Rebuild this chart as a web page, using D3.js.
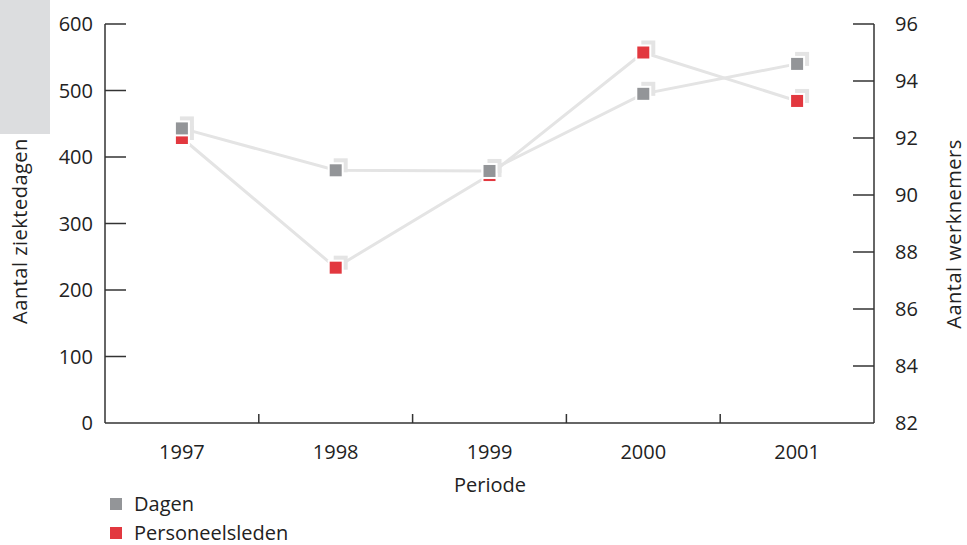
<!DOCTYPE html>
<html><head><meta charset="utf-8">
<script src="https://cdn.jsdelivr.net/npm/d3@7"></script>
<style>body{margin:0;background:#fff}svg{display:block}text{font-family:"Open Sans",sans-serif;fill:#222}</style>
</head><body><svg id="c" width="967" height="545"></svg>
<script>
const categories = ["1997","1998","1999","2000","2001"];
const dagen = [443, 380, 379, 495, 540];
const personeelsleden = [92.0, 87.45, 90.7, 95.0, 93.3];
const leftTicks = [0,100,200,300,400,500,600];
const rightTicks = [82,84,86,88,90,92,94,96];
const seriesNames = ["Dagen","Personeelsleden"];
const colors = ["#939598","#e2383f"];

const svg = d3.select("#c");
const L = 105, R = 874, T = 24, B = 423;
const fs = 20;

svg.append("rect").attr("x",0).attr("y",0).attr("width",50).attr("height",134).attr("fill","#dcdddf");

const x = d3.scaleBand().domain(categories).range([L,R]);
const yL = d3.scaleLinear().domain([0,600]).range([B,T]);
const yR = d3.scaleLinear().domain([82,96]).range([B,T]);

// axes
const ax = svg.append("g").attr("stroke","#333").attr("stroke-width",1.5);
ax.append("line").attr("x1",L).attr("x2",L).attr("y1",T).attr("y2",B);
ax.append("line").attr("x1",R).attr("x2",R).attr("y1",T).attr("y2",B);
ax.append("line").attr("x1",L).attr("x2",R).attr("y1",B).attr("y2",B);
leftTicks.forEach(v=>{ if(v>0) ax.append("line").attr("x1",L).attr("x2",L+21).attr("y1",yL(v)).attr("y2",yL(v)); });
rightTicks.forEach(v=>{ if(v>82) ax.append("line").attr("x1",R-21).attr("x2",R).attr("y1",yR(v)).attr("y2",yR(v)); });
categories.slice(1).forEach(c=>{ ax.append("line").attr("x1",x(c)).attr("x2",x(c)).attr("y1",B-9).attr("y2",B); });

leftTicks.forEach(v=>svg.append("text").attr("x",93).attr("y",yL(v)).attr("dy","0.35em").attr("text-anchor","end").attr("font-size",fs).text(v));
rightTicks.forEach(v=>svg.append("text").attr("x",895).attr("y",yR(v)).attr("dy","0.35em").attr("font-size",fs).text(v));
categories.forEach(c=>svg.append("text").attr("x",x(c)+x.bandwidth()/2).attr("y",459).attr("text-anchor","middle").attr("font-size",fs).text(c));
svg.append("text").attr("x",490).attr("y",492).attr("text-anchor","middle").attr("font-size",fs).text("Periode");
svg.append("text").attr("transform","translate(27,231) rotate(-90)").attr("text-anchor","middle").attr("font-size",fs).attr("letter-spacing",0.5).text("Aantal ziektedagen");
svg.append("text").attr("transform","translate(961,234) rotate(-90)").attr("text-anchor","middle").attr("font-size",fs).attr("letter-spacing",0.5).text("Aantal werknemers");

const cx = c => x(c)+x.bandwidth()/2;
const ptsD = categories.map((c,i)=>[cx(c), yL(dagen[i])]);
const ptsP = categories.map((c,i)=>[cx(c), yR(personeelsleden[i])]);
const line = d3.line();
[ptsP, ptsD].forEach(p=>svg.append("path").attr("d",line(p)).attr("fill","none").attr("stroke","#e4e4e4").attr("stroke-width",3));

const s = 14, off = 5;
function markers(pts,col){
  pts.forEach(([px,py])=>{
    svg.append("rect").attr("x",px-s/2+off).attr("y",py-s/2-off).attr("width",s).attr("height",s).attr("fill","#e4e4e4");
  });
  pts.forEach(([px,py])=>{
    svg.append("rect").attr("x",px-s/2).attr("y",py-s/2).attr("width",s).attr("height",s).attr("fill",col).attr("stroke","#fff").attr("stroke-width",2);
  });
}
markers(ptsP, colors[1]);
markers(ptsD, colors[0]);

seriesNames.forEach((n,i)=>{
  svg.append("rect").attr("x",110).attr("y",498+i*29).attr("width",12).attr("height",12).attr("fill",colors[i]);
  svg.append("text").attr("x",134).attr("y",504+i*29).attr("dy","0.35em").attr("font-size",fs).text(n);
});
</script></body></html>
